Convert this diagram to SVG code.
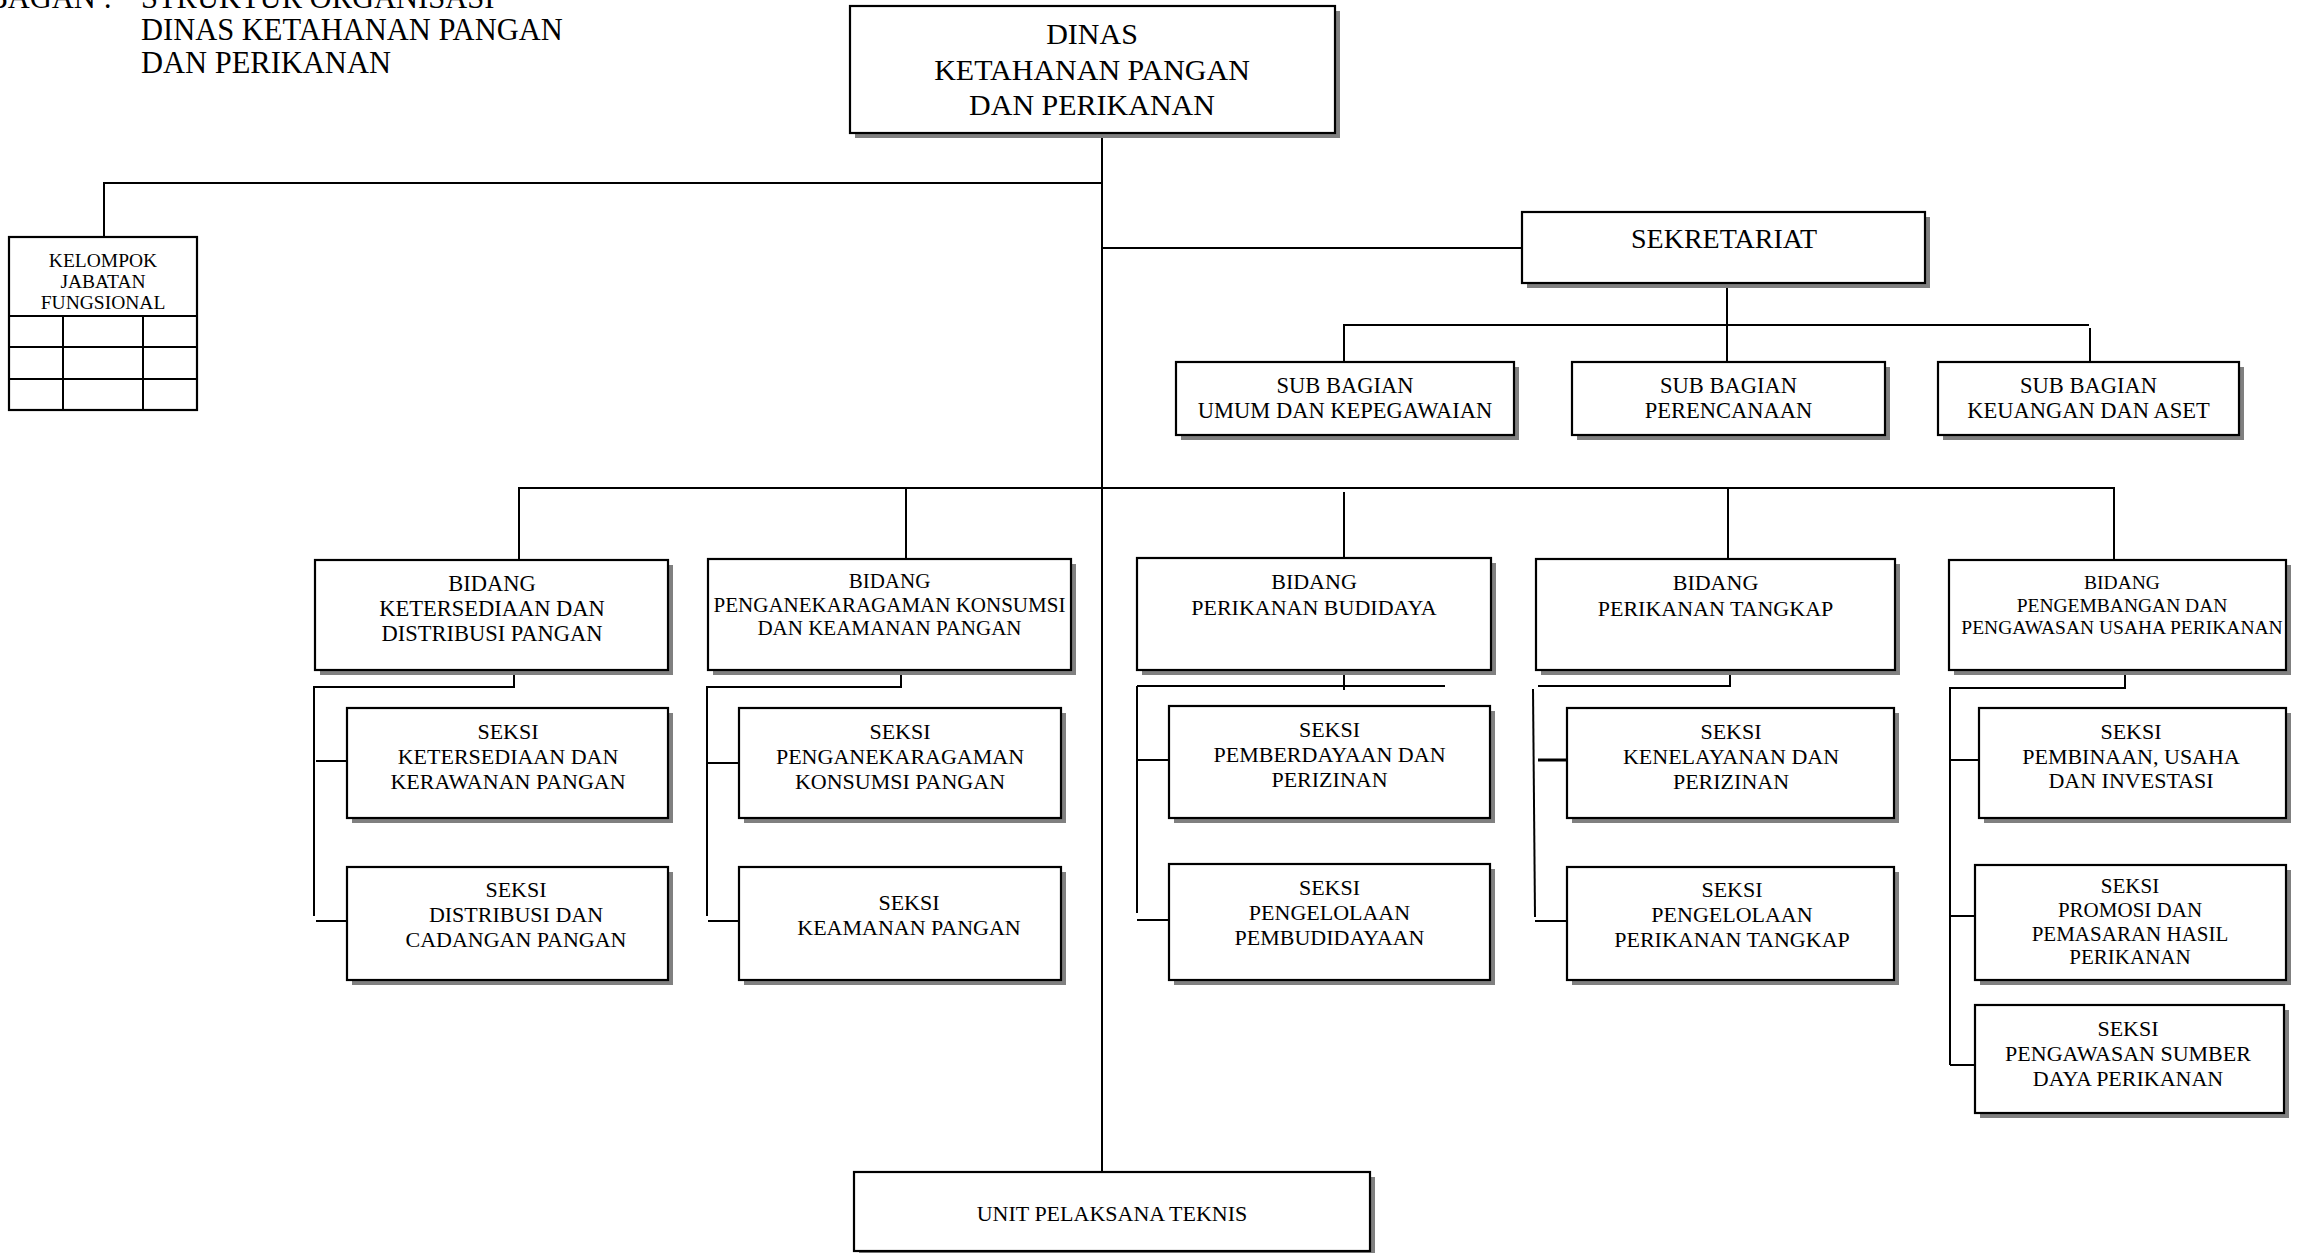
<svg xmlns="http://www.w3.org/2000/svg" width="2301" height="1253" viewBox="0 0 2301 1253">
<style>
.bg{fill:#fff}
.box{fill:#fff;stroke:#000;stroke-width:2.2}
.sh{fill:#808080}
.grid{fill:none;stroke:#000;stroke-width:2}
text{font-family:"Liberation Serif","Times New Roman",serif;fill:#000}
.c{text-anchor:middle}
.f30{font-size:30px}
.f305{font-size:30.5px}
.f28{font-size:28px}
.f225{font-size:22.5px}
.f22{font-size:22px}
.f21{font-size:21px}
.f195{font-size:19.5px}
#connectors path{fill:none;stroke:#000;stroke-width:2}
</style>
<rect class="bg" x="0" y="0" width="2301" height="1253"/>

<g id="title">
<text class="f305"><tspan x="112" y="8" text-anchor="end">BAGAN :</tspan><tspan x="141" y="8">STRUKTUR ORGANISASI</tspan></text>
<text class="f305" x="141" y="40">DINAS KETAHANAN PANGAN</text>
<text class="f305" x="141" y="73">DAN PERIKANAN</text>
</g>

<g id="connectors">
<path d="M1102,133 V1172"/>
<path d="M104,237 V183 H1102"/>
<path d="M1102,248 H1522"/>
<path d="M1727,285 V362"/>
<path d="M1344,361 V325 H2089"/>
<path d="M2090,328 V362"/>
<path d="M519,560 V488 H2114 V561"/>
<path d="M906,488 V559"/>
<path d="M1344,492 V558"/>
<path d="M1728,488 V559"/>
<path d="M514,672 V687 H314 V916"/>
<path d="M316,761 H347"/>
<path d="M316,921 H347"/>
<path d="M901,672 V687 H707 V916"/>
<path d="M708,763 H739"/>
<path d="M708,921 H739"/>
<path d="M1344,663 V690"/>
<path d="M1137,686 H1445"/>
<path d="M1137,686 V913"/>
<path d="M1137,760 H1169"/>
<path d="M1137,920 H1169"/>
<path d="M1730,672 V686 H1538"/>
<path d="M1533,689 L1535,917"/>
<path d="M1538,760 H1567" style="stroke-width:3"/>
<path d="M1535,921 H1567"/>
<path d="M2125,661 V688 H1950 V1065"/>
<path d="M1950,760 H1979"/>
<path d="M1950,916 H1975"/>
<path d="M1950,1065 H1975"/>
</g>

<g id="dinas">
<rect class="sh" x="855" y="11" width="485" height="127"/>
<rect class="box" x="850" y="6" width="485" height="127"/>
<text class="c f30" x="1092" y="44">DINAS</text>
<text class="c f30" x="1092" y="79.5">KETAHANAN PANGAN</text>
<text class="c f30" x="1092" y="115">DAN PERIKANAN</text>
</g>

<g id="kelompok-jabatan-fungsional">
<rect class="box" x="9" y="237" width="188" height="173"/>
<path class="grid" d="M9,316 H197 M9,347 H197 M9,379 H197 M63,316 V410 M143,316 V410"/>
<text class="c f195" x="103" y="267">KELOMPOK</text>
<text class="c f195" x="103" y="288">JABATAN</text>
<text class="c f195" x="103" y="309">FUNGSIONAL</text>
</g>

<g id="sekretariat">
<rect class="sh" x="1527" y="217" width="403" height="71"/>
<rect class="box" x="1522" y="212" width="403" height="71"/>
<text class="c f28" x="1724" y="248">SEKRETARIAT</text>
</g>

<g id="subbag-umum">
<rect class="sh" x="1181" y="367" width="338" height="73"/>
<rect class="box" x="1176" y="362" width="338" height="73"/>
<text class="c f225" x="1345" y="393">SUB BAGIAN</text>
<text class="c f225" x="1345" y="418">UMUM DAN KEPEGAWAIAN</text>
</g>

<g id="subbag-perencanaan">
<rect class="sh" x="1577" y="367" width="313" height="73"/>
<rect class="box" x="1572" y="362" width="313" height="73"/>
<text class="c f225" x="1728.5" y="393">SUB BAGIAN</text>
<text class="c f225" x="1728.5" y="418">PERENCANAAN</text>
</g>

<g id="subbag-keuangan">
<rect class="sh" x="1943" y="367" width="301" height="73"/>
<rect class="box" x="1938" y="362" width="301" height="73"/>
<text class="c f225" x="2088.5" y="393">SUB BAGIAN</text>
<text class="c f225" x="2088.5" y="418">KEUANGAN DAN ASET</text>
</g>

<g id="bidang-ketersediaan">
<rect class="sh" x="320" y="565" width="353" height="110"/>
<rect class="box" x="315" y="560" width="353" height="110"/>
<text class="c f225" x="492" y="591">BIDANG</text>
<text class="c f225" x="492" y="616">KETERSEDIAAN DAN</text>
<text class="c f225" x="492" y="641">DISTRIBUSI PANGAN</text>
</g>

<g id="bidang-penganekaragaman">
<rect class="sh" x="713" y="564" width="363" height="111"/>
<rect class="box" x="708" y="559" width="363" height="111"/>
<text class="c f21" x="889.5" y="588">BIDANG</text>
<text class="c f21" x="889.5" y="611.5">PENGANEKARAGAMAN KONSUMSI</text>
<text class="c f21" x="889.5" y="635">DAN KEAMANAN PANGAN</text>
</g>

<g id="bidang-budidaya">
<rect class="sh" x="1142" y="563" width="354" height="112"/>
<rect class="box" x="1137" y="558" width="354" height="112"/>
<text class="c f22" x="1314" y="589">BIDANG</text>
<text class="c f22" x="1314" y="615">PERIKANAN BUDIDAYA</text>
</g>

<g id="bidang-tangkap">
<rect class="sh" x="1541" y="564" width="359" height="111"/>
<rect class="box" x="1536" y="559" width="359" height="111"/>
<text class="c f22" x="1715.5" y="590">BIDANG</text>
<text class="c f22" x="1715.5" y="616">PERIKANAN TANGKAP</text>
</g>

<g id="bidang-pengembangan">
<rect class="sh" x="1954" y="565" width="337" height="110"/>
<rect class="box" x="1949" y="560" width="337" height="110"/>
<text class="c f195" x="2122" y="589">BIDANG</text>
<text class="c f195" x="2122" y="611.5">PENGEMBANGAN DAN</text>
<text class="c f195" x="2122" y="634">PENGAWASAN USAHA PERIKANAN</text>
</g>

<g id="seksi-ketersediaan">
<rect class="sh" x="352" y="713" width="321" height="110"/>
<rect class="box" x="347" y="708" width="321" height="110"/>
<text class="c f22" x="508" y="738.5">SEKSI</text>
<text class="c f22" x="508" y="763.5">KETERSEDIAAN DAN</text>
<text class="c f22" x="508" y="788.5">KERAWANAN PANGAN</text>
</g>

<g id="seksi-distribusi">
<rect class="sh" x="352" y="872" width="321" height="113"/>
<rect class="box" x="347" y="867" width="321" height="113"/>
<text class="c f22" x="516" y="897">SEKSI</text>
<text class="c f22" x="516" y="922">DISTRIBUSI DAN</text>
<text class="c f22" x="516" y="947">CADANGAN PANGAN</text>
</g>

<g id="seksi-penganekaragaman">
<rect class="sh" x="744" y="713" width="322" height="110"/>
<rect class="box" x="739" y="708" width="322" height="110"/>
<text class="c f22" x="900" y="738.5">SEKSI</text>
<text class="c f22" x="900" y="763.5">PENGANEKARAGAMAN</text>
<text class="c f22" x="900" y="788.5">KONSUMSI PANGAN</text>
</g>

<g id="seksi-keamanan">
<rect class="sh" x="744" y="872" width="322" height="113"/>
<rect class="box" x="739" y="867" width="322" height="113"/>
<text class="c f22" x="909" y="909.5">SEKSI</text>
<text class="c f22" x="909" y="935">KEAMANAN PANGAN</text>
</g>

<g id="seksi-pemberdayaan">
<rect class="sh" x="1174" y="711" width="321" height="112"/>
<rect class="box" x="1169" y="706" width="321" height="112"/>
<text class="c f22" x="1329.5" y="737">SEKSI</text>
<text class="c f22" x="1329.5" y="762">PEMBERDAYAAN DAN</text>
<text class="c f22" x="1329.5" y="787">PERIZINAN</text>
</g>

<g id="seksi-pembudidayaan">
<rect class="sh" x="1174" y="869" width="321" height="116"/>
<rect class="box" x="1169" y="864" width="321" height="116"/>
<text class="c f22" x="1329.5" y="895">SEKSI</text>
<text class="c f22" x="1329.5" y="920">PENGELOLAAN</text>
<text class="c f22" x="1329.5" y="945">PEMBUDIDAYAAN</text>
</g>

<g id="seksi-kenelayanan">
<rect class="sh" x="1572" y="713" width="327" height="110"/>
<rect class="box" x="1567" y="708" width="327" height="110"/>
<text class="c f22" x="1731" y="739">SEKSI</text>
<text class="c f22" x="1731" y="764">KENELAYANAN DAN</text>
<text class="c f22" x="1731" y="789">PERIZINAN</text>
</g>

<g id="seksi-pengelolaan-tangkap">
<rect class="sh" x="1572" y="872" width="327" height="113"/>
<rect class="box" x="1567" y="867" width="327" height="113"/>
<text class="c f22" x="1732" y="897">SEKSI</text>
<text class="c f22" x="1732" y="922">PENGELOLAAN</text>
<text class="c f22" x="1732" y="947">PERIKANAN TANGKAP</text>
</g>

<g id="seksi-pembinaan">
<rect class="sh" x="1984" y="713" width="307" height="110"/>
<rect class="box" x="1979" y="708" width="307" height="110"/>
<text class="c f22" x="2131" y="739">SEKSI</text>
<text class="c f22" x="2131" y="763.5">PEMBINAAN, USAHA</text>
<text class="c f22" x="2131" y="788">DAN INVESTASI</text>
</g>

<g id="seksi-promosi">
<rect class="sh" x="1980" y="870" width="311" height="115"/>
<rect class="box" x="1975" y="865" width="311" height="115"/>
<text class="c f21" x="2130" y="893">SEKSI</text>
<text class="c f21" x="2130" y="917">PROMOSI DAN</text>
<text class="c f21" x="2130" y="940.5">PEMASARAN HASIL</text>
<text class="c f21" x="2130" y="964">PERIKANAN</text>
</g>

<g id="seksi-pengawasan">
<rect class="sh" x="1980" y="1010" width="309" height="108"/>
<rect class="box" x="1975" y="1005" width="309" height="108"/>
<text class="c f22" x="2128" y="1036">SEKSI</text>
<text class="c f22" x="2128" y="1061">PENGAWASAN SUMBER</text>
<text class="c f22" x="2128" y="1086">DAYA PERIKANAN</text>
</g>

<g id="upt">
<rect class="sh" x="859" y="1177" width="516" height="79"/>
<rect class="box" x="854" y="1172" width="516" height="79"/>
<text class="c f22" x="1112" y="1221">UNIT PELAKSANA TEKNIS</text>
</g>
</svg>
